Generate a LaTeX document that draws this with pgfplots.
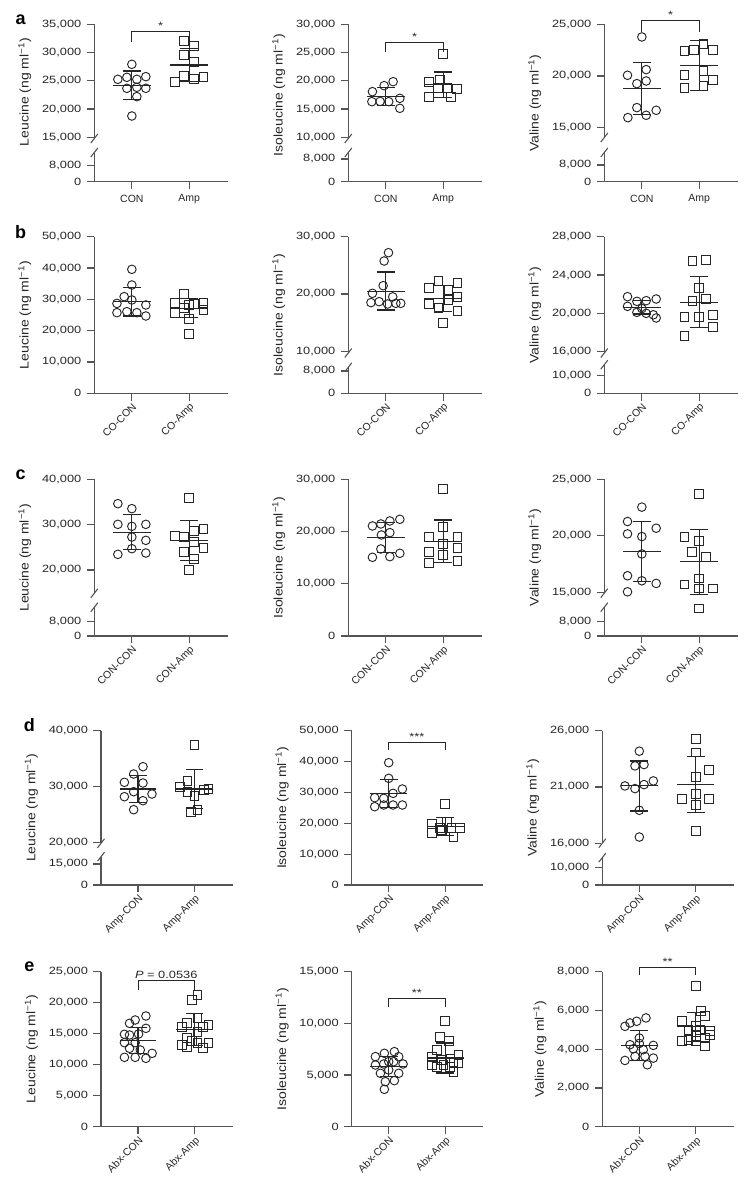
\documentclass[border=0pt]{standalone}
\usepackage{fontspec}
\setmainfont{Liberation Sans}
\usepackage{graphicx}
\usepackage{pgfplots}
\pgfplotsset{compat=1.18}

\definecolor{axc}{HTML}{555555}
\definecolor{ink}{HTML}{262626}
\newcommand{\tickfont}{\fontsize{10.5}{12}\selectfont}
\newcommand{\labfont}{\fontsize{12.5}{14}\selectfont}
% the figure's numerals run wide: stretch them horizontally
\newcommand{\st}[1]{\scalebox{1.22}[1]{#1}}
\newcommand{\yl}[1]{\scalebox{1.12}[1]{#1 (ng ml\textsuperscript{−1})}}

\pgfplotsset{
  base/.style={scale only axis, anchor=south west,
    xmin=-0.655, xmax=1.672, xtick={0,1},
    axis x line*=bottom, axis y line*=left,
    axis line style={axc, line width=1.1pt, -},
    tick style={axc, line width=1.1pt},
    major tick length=7.5pt, tick align=outside,
    scaled y ticks=false, clip=false,
    yticklabel style={font=\tickfont, text=ink, xshift=-2pt},
    xticklabel style={font=\tickfont, text=ink},
    ylabel style={font=\labfont, text=ink}, ylabel shift=4pt},
  rowA/.style={base, width=133.4pt, height=157.4pt,
    xticklabels={CON,Amp}, xticklabel style={yshift=-2pt}},
  rowBC/.style={base, width=133.4pt,
    xticklabel style={rotate=45, anchor=north east, inner sep=1pt}},
  rowDE/.style={base, width=131.5pt,
    xticklabel style={rotate=45, anchor=north east, inner sep=1pt}},
  con/.style={only marks, mark=o, mark size=4.3pt, ink,
    mark options={line width=0.95pt}},
  sq/.style={only marks, mark=square, mark size=4.4pt, ink,
    mark options={line width=0.95pt}},
  eb/.style={ink, line width=1.1pt},
  brack/.style={ink, line width=0.8pt},
}

% mean line and SD whiskers for the first (A) and second (B) group
\newcommand{\msdA}[3]{%
  \addplot[eb] coordinates {(-0.326,#1) (0.326,#1)};
  \addplot[eb] coordinates {(0,#2) (0,#3)};
  \addplot[eb] coordinates {(-0.157,#2) (0.157,#2)};
  \addplot[eb] coordinates {(-0.157,#3) (0.157,#3)};}
\newcommand{\msdB}[3]{%
  \addplot[eb] coordinates {(0.674,#1) (1.326,#1)};
  \addplot[eb] coordinates {(1,#2) (1,#3)};
  \addplot[eb] coordinates {(0.843,#2) (1.157,#2)};
  \addplot[eb] coordinates {(0.843,#3) (1.157,#3)};}
% significance bracket: leg end, top, text
\newcommand{\sig}[3]{%
  \addplot[brack] coordinates {(0,#1) (0,#2) (1,#2) (1,#1)};
  \node[font=\tickfont, text=ink, anchor=south, inner sep=1.5pt] at (axis cs:0.5,#2) {\st{#3}};}
% axis break between two heights
\newcommand{\brk}[2]{%
  \draw[white, line width=3pt] (axis cs:-0.655,#1) -- (axis cs:-0.655,#2);
  \draw[axc, line width=1.1pt] ([shift={(-3.5pt,-4.5pt)}]axis cs:-0.655,#1) -- ([shift={(3.5pt,4.5pt)}]axis cs:-0.655,#1);
  \draw[axc, line width=1.1pt] ([shift={(-3.5pt,-4.5pt)}]axis cs:-0.655,#2) -- ([shift={(3.5pt,4.5pt)}]axis cs:-0.655,#2);}

\begin{document}
\begin{tikzpicture}
\path[use as bounding box] (0,0) rectangle (754pt,1194pt);

% panel letters
\foreach \l/\x/\y in {a/20.7/1174.7, b/20.7/962.3, c/20.7/719, d/29.3/469, e/29.3/227.3}
  \node[font=\bfseries\fontsize{18}{18}\selectfont, text=black] at (\x pt,\y pt) {\l};

%================ row a
\begin{axis}[rowA, at={(94.3pt,1012.3pt)}, ymin=7141, ymax=35000,
  ytick={7141,9973,15000,20000,25000,30000,35000},
  yticklabels={\st{0},\st{8,000},\st{15,000},\st{20,000},\st{25,000},\st{30,000},\st{35,000}},
  ylabel={\yl{Leucine}}, ylabel style={at={(ticklabel cs:0.57)}}]
\addplot[con] coordinates {(0,27916) (-0.244,25261) (-0.087,25615) (0.087,25261) (0.244,25733) (-0.087,23668) (0.087,23845) (0.244,23668) (0.087,22192) (0,18770)};
\addplot[sq] coordinates {(0.907,32104) (1.087,31160) (0.907,29567) (1.087,28387) (0.75,24846) (0.907,25850) (1.087,25261) (1.25,25733)};
\msdA{24230}{26735}{21720}
\msdB{27800}{30650}{24950}
\sig{31920}{33690}{*}
\brk{14788}{12310}
\end{axis}

\begin{axis}[rowA, at={(348.3pt,1012.3pt)}, ymin=2141, ymax=30000,
  ytick={2141,6159,10000,15000,20000,25000,30000},
  yticklabels={\st{0},\st{8,000},\st{10,000},\st{15,000},\st{20,000},\st{25,000},\st{30,000}},
  ylabel={\yl{Isoleucine}}, ylabel style={at={(ticklabel cs:0.55)}}]
\addplot[con] coordinates {(-0.234,18077) (-0.03,19139) (0.127,19846) (-0.244,16306) (-0.1,16350) (0.05,16306) (0.244,16897) (0.244,15128)};
\addplot[sq] coordinates {(1,24686) (0.756,19846) (0.95,20142) (0.91,18667) (1.076,18667) (1.244,18490) (0.756,17191) (1.134,17191)};
\msdA{17200}{18800}{15600}
\msdB{19300}{21560}{17040}
\sig{25045}{26815}{*}
\brk{9788}{7310}
\end{axis}

\begin{axis}[rowA, at={(604.3pt,1012.3pt)}, ymin=9778, ymax=25000,
  ytick={9778,11393,15000,20000,25000},
  yticklabels={\st{0},\st{8,000},\st{15,000},\st{20,000},\st{25,000}},
  ylabel={\yl{Valine}}]
\addplot[con] coordinates {(0,23774) (-0.25,20068) (0.076,20616) (0.076,19519) (-0.087,19262) (-0.087,16941) (0.25,16683) (-0.244,15974) (0.076,16200)};
\addplot[sq] coordinates {(1.076,23130) (0.744,22388) (0.913,22550) (1.24,22550) (0.744,20068) (1.076,20486) (0.744,18875) (1.076,19004) (1.24,19584)};
\msdA{18800}{21300}{16300}
\msdB{21000}{23430}{18570}
\sig{24283}{25347}{*}
\brk{14052}{12602}
\end{axis}

%================ row b
\begin{axis}[rowBC, height=156.6pt, at={(94.3pt,800.7pt)}, ymin=0, ymax=50000,
  ytick={0,10000,20000,30000,40000,50000},
  yticklabels={\st{0},\st{10,000},\st{20,000},\st{30,000},\st{40,000},\st{50,000}},
  xticklabels={CO-CON,CO-Amp}, ylabel={\yl{Leucine}}]
\addplot[con] coordinates {(0,39583) (0,34580) (-0.134,30854) (0,29800) (-0.26,28700) (0.244,28194) (-0.26,25745) (-0.087,26064) (0.087,25745) (0.244,24682)};
\addplot[sq] coordinates {(0.913,31706) (0.75,28938) (1.25,28726) (1.087,28600) (1,28300) (0.913,27300) (0.75,25745) (1.25,26500) (1,23617) (1,18829)};
\msdA{29260}{33830}{24690}
\msdB{27160}{30160}{24160}
\end{axis}

\begin{axis}[rowBC, height=156.6pt, at={(348.3pt,800.7pt)}, ymin=2671, ymax=30000,
  ytick={2671,6562,10000,20000,30000},
  yticklabels={\st{0},\st{8,000},\st{10,000},\st{20,000},\st{30,000}},
  xticklabels={CO-CON,CO-Amp}, ylabel={\yl{Isoleucine}}]
\addplot[con] coordinates {(0.046,27211) (-0.03,25757) (-0.047,21452) (-0.234,20116) (-0.26,18500) (-0.117,18660) (0.03,18254) (0.175,18370) (0.26,18370) (0.12,19500)};
\addplot[sq] coordinates {(0.756,20989) (0.919,22326) (1.093,20697) (1.25,21976) (0.756,18254) (0.919,17498) (1.093,18952) (1.25,19533) (1.25,17090) (1,14996)};
\msdA{20500}{23830}{17200}
\msdB{19200}{21500}{16900}
\brk{9703}{7208}
\end{axis}

\begin{axis}[rowBC, height=156.6pt, at={(604.3pt,800.7pt)}, ymin=11661, ymax=28000,
  ytick={11661,13497,16000,20000,24000,28000},
  yticklabels={\st{0},\st{10,000},\st{16,000},\st{20,000},\st{24,000},\st{28,000}},
  xticklabels={CO-CON,CO-Amp}, ylabel={\yl{Valine}}]
\addplot[con] coordinates {(-0.25,21742) (-0.087,21255) (0.076,21325) (0.25,21499) (-0.25,20733) (-0.087,20107) (0.076,20003) (0.2,19850) (0.25,19517) (0,20500)};
\addplot[sq] coordinates {(0.884,25497) (1.122,25601) (1,22646) (0.884,21325) (1.122,21499) (0.744,19586) (1,19586) (1.24,19864) (1.24,18613) (0.744,17604)};
\msdA{20630}{21330}{19930}
\msdB{21180}{23860}{18540}
\brk{15864}{14644}
\end{axis}

%================ row c
\begin{axis}[rowBC, height=156.7pt, at={(94.3pt,558pt)}, ymin=5447, ymax=40000,
  ytick={5447,8600,20000,30000,40000},
  yticklabels={\st{0},\st{8,000},\st{20,000},\st{30,000},\st{40,000}},
  xticklabels={CON-CON,CON-Amp}, ylabel={\yl{Leucine}}]
\addplot[con] coordinates {(-0.244,34624) (0,33521) (-0.244,30066) (0,29625) (0.244,30066) (0,27272) (0.244,26538) (0,24701) (-0.244,23451) (0.244,23745)};
\addplot[sq] coordinates {(1,35872) (0.75,27420) (0.913,27272) (1.087,28523) (1.25,29111) (0.913,23965) (1.25,24922) (1.087,22496) (1,20071) (1.087,26170)};
\msdA{28360}{32200}{24500}
\msdB{26540}{30950}{22130}
\brk{14862}{11775}
\end{axis}

\begin{axis}[rowBC, height=156.7pt, at={(348.3pt,558pt)}, ymin=0, ymax=30000,
  ytick={0,10000,20000,30000},
  yticklabels={\st{0},\st{10,000},\st{20,000},\st{30,000}},
  xticklabels={CON-CON,CON-Amp}, ylabel={\yl{Isoleucine}}]
\addplot[con] coordinates {(-0.234,21065) (-0.087,21448) (0.07,22023) (0.244,22342) (-0.077,19342) (0.07,19788) (-0.234,15065) (-0.087,16661) (0.07,15192) (0.244,15831)};
\addplot[sq] coordinates {(1,28087) (1,20810) (0.756,18895) (1.25,18895) (1,17618) (1.25,16789) (0.756,16150) (1,15513) (0.756,14044) (1.25,14366)};
\msdA{18880}{21800}{15960}
\msdB{18100}{22200}{14000}
\end{axis}

\begin{axis}[rowBC, height=156.7pt, at={(604.3pt,558pt)}, ymin=11159, ymax=25000,
  ytick={11159,12428,15000,20000,25000},
  yticklabels={\st{0},\st{8,000},\st{15,000},\st{20,000},\st{25,000}},
  xticklabels={CON-CON,CON-Amp}, ylabel={\yl{Valine}}]
\addplot[con] coordinates {(0,22543) (-0.25,21271) (0.25,20680) (-0.25,20177) (0,19941) (0,18403) (-0.25,16481) (0,16038) (0.25,15802) (-0.25,15062)};
\addplot[sq] coordinates {(1,23725) (0.744,19882) (1,19586) (0.872,18610) (1.122,18108) (1,16245) (0.744,15713) (1,15358) (1.24,15358) (1,13584)};
\msdA{18620}{21270}{15970}
\msdB{17720}{20600}{14840}
\brk{14947}{13705}
\end{axis}

%================ row d
\begin{axis}[rowDE, height=154.3pt, at={(101pt,309pt)}, ymin=12445, ymax=40000,
  ytick={12445,16196,20000,30000,40000},
  yticklabels={\st{0},\st{15,000},\st{20,000},\st{30,000},\st{40,000}},
  xticklabels={Amp-CON,Amp-Amp}, ylabel={\yl{Leucine}}]
\addplot[con] coordinates {(0.088,33572) (-0.077,32263) (-0.241,30774) (0.088,30655) (-0.077,29107) (0.247,28691) (-0.241,28214) (0.088,27500) (-0.077,25892)};
\addplot[sq] coordinates {(1,37501) (0.876,31072) (0.747,29880) (0.876,28987) (1,28393) (1.17,29464) (1.247,29584) (0.935,25416) (1.053,25892)};
\msdA{29580}{31965}{27200}
\msdB{29580}{33000}{26160}
\brk{19893}{17500}
\end{axis}

\begin{axis}[rowDE, height=154.3pt, at={(351.7pt,309pt)}, ymin=0, ymax=50000,
  ytick={0,10000,20000,30000,40000,50000},
  yticklabels={\st{0},\st{10,000},\st{20,000},\st{30,000},\st{40,000},\st{50,000}},
  xticklabels={Amp-CON,Amp-Amp}, ylabel={\yl{Isoleucine}}]
\addplot[con] coordinates {(0,39635) (0,34561) (0.242,31104) (0.077,29701) (-0.088,28081) (-0.248,28295) (-0.248,25379) (-0.088,25920) (0.077,25920) (0.242,25920)};
\addplot[sq] coordinates {(1,26137) (0.764,19657) (1.03,20519) (0.9,18361) (1.265,18361) (0.94,17820) (0.764,16741) (1.147,15659) (1.11,18361)};
\msdA{29650}{34250}{25050}
\msdB{18870}{21800}{15940}
\sig{43690}{46370}{***}
\end{axis}

\begin{axis}[rowDE, height=154.3pt, at={(602.3pt,309pt)}, ymin=12287, ymax=26000,
  ytick={12287,13827,16000,21000,26000},
  yticklabels={\st{0},\st{10,000},\st{16,000},\st{21,000},\st{26,000}},
  xticklabels={Amp-CON,Amp-Amp}, ylabel={\yl{Valine}}]
\addplot[con] coordinates {(0,24179) (-0.077,22873) (0.083,22992) (0.248,21537) (-0.254,21092) (-0.077,20855) (0.083,21211) (0,18925) (0,16550)};
\addplot[sq] coordinates {(1,25248) (1,24061) (1.236,22487) (1,21893) (0.752,19905) (1,20410) (1,19430) (1.236,19905) (1,17085)};
\msdA{21150}{23310}{18860}
\msdB{21240}{23670}{18720}
\brk{16000}{14718}
\end{axis}

%================ row e
\begin{axis}[rowDE, height=155pt, at={(101pt,67.3pt)}, ymin=0, ymax=25000,
  ytick={0,5000,10000,15000,20000,25000},
  yticklabels={\st{0},\st{5,000},\st{10,000},\st{15,000},\st{20,000},\st{25,000}},
  xticklabels={Abx-CON,Abx-Amp}, ylabel={\yl{Leucine}}]
\addplot[con] coordinates {(0.14,17856) (-0.05,17211) (-0.15,16673) (0.14,15867) (-0.15,14791) (0.01,14953) (-0.24,13554) (-0.05,13554) (-0.15,12641) (0.04,12372) (0.25,11834) (-0.24,11189) (-0.05,11189) (0.14,11028) (-0.24,14900)};
\addplot[sq] coordinates {(1.053,21243) (0.953,20437) (0.864,16673) (1.053,17480) (0.776,16135) (1.248,16404) (1.147,16028) (0.864,14254) (1.053,15328) (0.776,13178) (0.953,13877) (1.248,13554) (1.147,12748) (1.053,13554) (0.864,12909)};
\msdA{13900}{16030}{11770}
\msdB{15700}{18300}{13100}
\sig{22050}{23550}{\textit{P} = 0.0536}
\end{axis}

\begin{axis}[rowDE, height=155pt, at={(351.7pt,67.3pt)}, ymin=0, ymax=15000,
  ytick={0,5000,10000,15000},
  yticklabels={\st{0},\st{5,000},\st{10,000},\st{15,000}},
  xticklabels={Abx-CON,Abx-Amp}, ylabel={\yl{Isoleucine}}]
\addplot[con] coordinates {(-0.077,7102) (0.1,7263) (-0.236,5972) (-0.088,6069) (0.088,6295) (0.254,6069) (-0.147,5166) (0,5489) (0.1,4456) (-0.06,4359) (-0.077,3617) (-0.236,6779) (0.177,6779) (0,6295) (0.177,5166)};
\addplot[sq] coordinates {(1,10264) (0.912,8715) (1.06,8300) (0.853,7400) (0.764,6779) (1.236,6941) (1.088,6600) (0.94,6457) (1.147,6295) (0.764,5972) (1.236,6134) (0.97,5972) (1.088,5811) (1.147,5327) (0.853,5811)};
\msdA{5850}{6800}{4900}
\msdB{6650}{8100}{5200}
\sig{11560}{12430}{**}
\end{axis}

\begin{axis}[rowDE, height=155pt, at={(602.3pt,67.3pt)}, ymin=0, ymax=8000,
  ytick={0,2000,4000,6000,8000},
  yticklabels={\st{0},\st{2,000},\st{4,000},\st{6,000},\st{8,000}},
  xticklabels={Abx-CON,Abx-Amp}, ylabel={\yl{Valine}}]
\addplot[con] coordinates {(0.118,5614) (-0.047,5441) (-0.165,5355) (-0.254,5180) (0,4578) (-0.165,4232) (0.248,4197) (0.07,3973) (-0.254,3420) (-0.077,3628) (0.1,3628) (0.248,3542) (0.142,3196) (-0.106,4023) (0,4300)};
\addplot[sq] coordinates {(1,7254) (1.088,5993) (1.165,5700) (0.752,5441) (1,5182) (1.254,4923) (0.87,5009) (1.077,5009) (0.87,4491) (1,4664) (1.165,4578) (0.752,4405) (1.165,4180) (1,4405) (1.254,4750)};
\msdA{4200}{4970}{3430}
\msdB{5150}{5900}{4400}
\sig{7822}{8236}{**}
\end{axis}
\end{tikzpicture}
\end{document}
